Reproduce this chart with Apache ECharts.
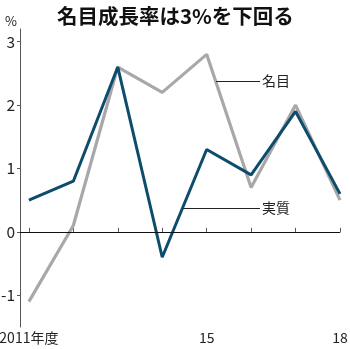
<!DOCTYPE html>
<html><head><meta charset="utf-8">
<script src="https://cdn.jsdelivr.net/npm/echarts@6/dist/echarts.min.js"></script>
<style>html,body{margin:0;padding:0;background:#fff}#c{width:350px;height:349px}</style>
</head><body><div id="c"></div>
<script>
const years = [2011, 2012, 2013, 2014, 2015, 2016, 2017, 2018];
const realGrowth = [0.5, 0.8, 2.6, -0.4, 1.3, 0.9, 1.9, 0.6];
const nominalGrowth = [-1.1, 0.1, 2.6, 2.2, 2.8, 0.7, 2.0, 0.5];
const yTicks = [-1, 0, 1, 2, 3];
const xLabelYears = [2011, 2015, 2018];
const xLabelText = {2011: '2011年度', 2015: '15', 2018: '18'};

const font = "'Noto Sans CJK JP',sans-serif";
const chart = echarts.init(document.getElementById('c'), null, {renderer: 'canvas'});
chart.setOption({
  animation: false,
  title: [
    {text: '名目成長率は3%を下回る', left: 52, top: 1,
     textStyle: {fontFamily: font, fontWeight: 'bold', fontSize: 20.5, color: '#111'}},
    {text: '%', left: 0, top: 10,
     textStyle: {fontFamily: font, fontWeight: 'normal', fontSize: 13, color: '#222'}}
  ],
  grid: {left: 20, right: 10, top: 29, height: 298, outerBoundsMode: 'none', containLabel: false},
  xAxis: {
    type: 'value', min: 2010.8, max: 2018,
    axisLine: {show: true, lineStyle: {color: '#555', width: 1}},
    axisTick: {show: true, inside: true, length: 4, customValues: years, lineStyle: {color: '#555'}},
    axisLabel: {customValues: xLabelYears, formatter: v => xLabelText[v], margin: 4,
      fontFamily: font, fontSize: 14, color: '#222', hideOverlap: false},
    splitLine: {show: false}
  },
  yAxis: {
    type: 'value', min: -1.5, max: 3.2,
    axisLine: {show: true, lineStyle: {color: '#555', width: 1}},
    axisTick: {show: true, inside: false, length: 3, customValues: yTicks, lineStyle: {color: '#555'}},
    axisLabel: {customValues: yTicks, margin: 5, fontFamily: font, fontSize: 15.5, color: '#222'},
    splitLine: {show: false}
  },
  series: [
    {
      type: 'line', name: '名目', data: years.map((y, i) => [y, nominalGrowth[i]]),
      symbol: 'none', lineStyle: {color: '#a8a8ab', width: 3.2}, z: 2,
      markLine: {
        silent: true, symbol: 'none',
        lineStyle: {color: '#222', width: 1, type: 'solid'},
        label: {show: true, position: 'end', distance: 2, formatter: '{b}',
          fontFamily: font, fontSize: 14, color: '#222'},
        data: [
          [{name: '名目', coord: [2015.21, 2.38]}, {coord: [2016.2, 2.38]}]
        ]
      }
    },
    {
      type: 'line', name: '実質', data: years.map((y, i) => [y, realGrowth[i]]),
      symbol: 'none', lineStyle: {color: '#0d4d6b', width: 3}, z: 3,
      markLine: {
        silent: true, symbol: 'none',
        lineStyle: {color: '#222', width: 1, type: 'solid'},
        label: {show: true, position: 'end', distance: 2, formatter: '{b}',
          fontFamily: font, fontSize: 14, color: '#222'},
        data: [
          [{name: '実質', coord: [2014.47, 0.38]}, {coord: [2016.2, 0.38]}],
          {yAxis: 0, name: '', label: {show: false}, lineStyle: {color: '#111', width: 1}}
        ]
      }
    }
  ]
});
</script></body></html>
